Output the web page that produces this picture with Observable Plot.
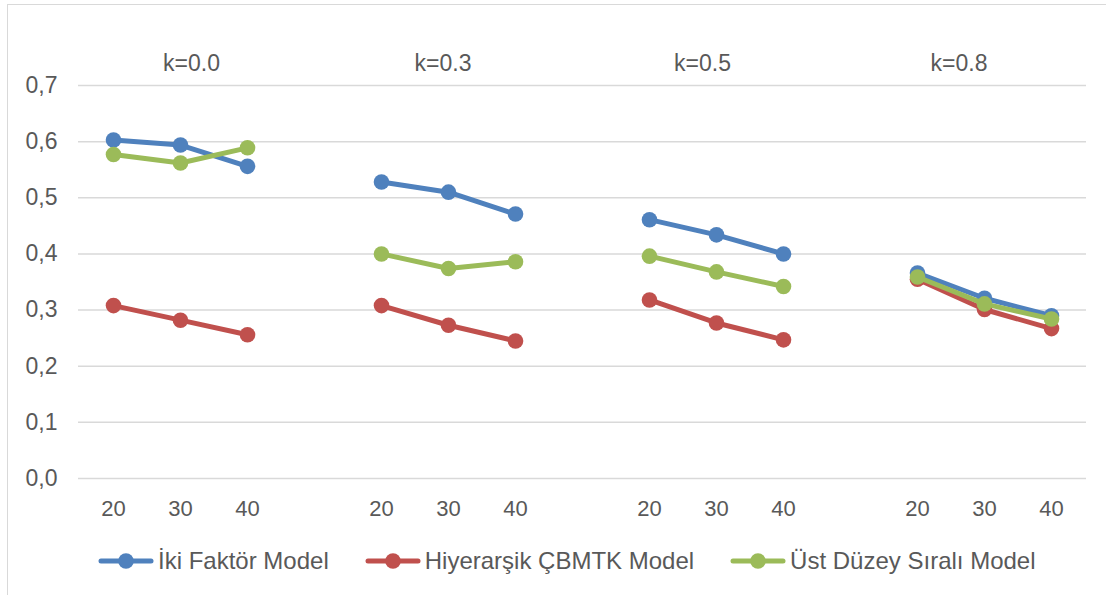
<!DOCTYPE html>
<html>
<head>
<meta charset="utf-8">
<script src="https://cdn.jsdelivr.net/npm/d3@7"></script>
<script src="https://cdn.jsdelivr.net/npm/@observablehq/plot@0.6"></script>
<style>
  html, body { margin: 0; padding: 0; background: #fff; overflow: hidden; }
  body { width: 1106px; height: 595px; position: relative; font-family: "Liberation Sans", Arial, sans-serif; }
  #frame { position: absolute; left: 7px; top: 4px; width: 1130px; height: 640px; border: 1.5px solid #d9d9d9; box-sizing: border-box; }
  #chart { position: absolute; left: 0; top: 0; }
  #legend { position: absolute; left: 98px; top: 547px; display: flex; gap: 36px; align-items: center; color: #595959; font-size: 24px; }
  .item { display: flex; align-items: center; white-space: nowrap; }
  .item svg { margin-right: 4px; }
</style>
</head>
<body>
<div id="frame"></div>
<div id="chart"></div>
<div id="legend"></div>
<script>
// ---- data ----
const kLabels = ["k=0.0", "k=0.3", "k=0.5", "k=0.8"];
const nValues = [20, 30, 40];
const seriesNames = ["İki Faktör Model", "Hiyerarşik ÇBMTK Model", "Üst Düzey Sıralı Model"];
const seriesColors = ["#4F81BD", "#C0504D", "#9BBB59"];
const ikiFaktor  = [[0.603, 0.594, 0.556], [0.528, 0.510, 0.471], [0.461, 0.434, 0.400], [0.366, 0.321, 0.290]];
const hiyerarsik = [[0.308, 0.282, 0.256], [0.308, 0.273, 0.245], [0.318, 0.277, 0.247], [0.355, 0.301, 0.267]];
const ustDuzey   = [[0.577, 0.562, 0.589], [0.400, 0.374, 0.386], [0.396, 0.368, 0.342], [0.359, 0.311, 0.284]];
const yTicks = [0, 0.1, 0.2, 0.3, 0.4, 0.5, 0.6, 0.7];

const seriesValues = [ikiFaktor, hiyerarsik, ustDuzey];

// categories: 3 per group, with blank gap categories between groups
const cats = [];
const catLabel = {};
kLabels.forEach((k, gi) => {
  nValues.forEach(n => { const c = k + "|" + n; cats.push(c); catLabel[c] = String(n); });
  if (gi < kLabels.length - 1) { const g = "gap" + gi; cats.push(g); catLabel[g] = ""; }
});

const rows = [];
seriesNames.forEach((s, si) => {
  kLabels.forEach((k, gi) => {
    nValues.forEach((n, ni) => {
      rows.push({series: s, k, cat: k + "|" + n, value: seriesValues[si][gi][ni]});
    });
  });
});

const groupLabels = kLabels.map((k, gi) => ({k, cat: k + "|" + nValues[1]}));
const groupDx = [11, -5.5, -14, -25.5];

const color = {domain: seriesNames, range: seriesColors};

const marks = [
  Plot.ruleY(yTicks, {stroke: "#d9d9d9", strokeWidth: 1.5}),
  Plot.axisY(yTicks, {label: null, tickSize: 0, tickPadding: 21, tickFormat: d => d.toFixed(1).replace(".", ","), fontSize: 23, fill: "#595959"}),
  Plot.axisX({label: null, tickSize: 0, tickPadding: 22, tickFormat: d => catLabel[d], fontSize: 22, fill: "#595959"}),
];
seriesNames.forEach(s => {
  const data = rows.filter(r => r.series === s);
  marks.push(Plot.line(data, {x: "cat", y: "value", z: "k", stroke: "series", strokeWidth: 5, strokeLinejoin: "round", strokeLinecap: "round"}));
  marks.push(Plot.dot(data, {x: "cat", y: "value", fill: "series", r: 7.8, stroke: "none"}));
});
groupLabels.forEach((g, i) => {
  marks.push(Plot.text([g], {x: "cat", frameAnchor: "top", dy: -31, dx: groupDx[i], text: "k", fontSize: 23, fill: "#595959"}));
});

const plot = Plot.plot({
  width: 1106,
  height: 530,
  marginLeft: 78,
  marginRight: 20,
  marginTop: 85,
  marginBottom: 52,
  style: {fontFamily: "Liberation Sans, Arial, sans-serif", color: "#595959", background: "transparent"},
  x: {type: "point", domain: cats, padding: 0.5, axis: null},
  y: {domain: [0, 0.7], axis: null},
  color,
  marks
});
document.getElementById("chart").appendChild(plot);

// legend
const legend = document.getElementById("legend");
seriesNames.forEach((s, i) => {
  const item = document.createElement("div");
  item.className = "item";
  item.innerHTML = `<svg width="56" height="20"><line x1="3" y1="10" x2="53" y2="10" stroke="${seriesColors[i]}" stroke-width="5" stroke-linecap="round"/><circle cx="28" cy="10" r="7.8" fill="${seriesColors[i]}"/></svg><span>${s}</span>`;
  legend.appendChild(item);
});
</script>
</body>
</html>
